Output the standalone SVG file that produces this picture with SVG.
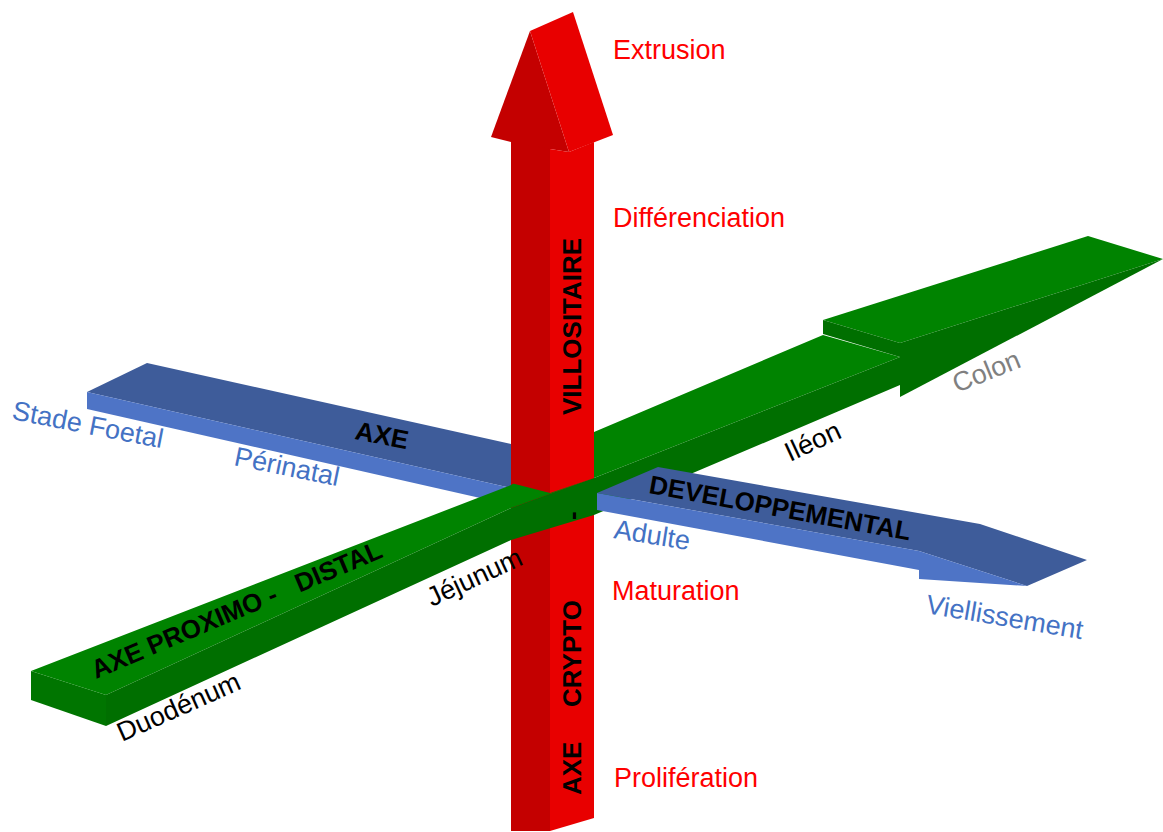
<svg xmlns="http://www.w3.org/2000/svg" width="1163" height="832" viewBox="0 0 1163 832">
  <style>
    text { font-family: "Liberation Sans", Arial, sans-serif; font-size: 27px; }
    .red-top { fill: #E80000; }
    .red-side { fill: #C40000; }
    .green-top { fill: #008300; }
    .green-side { fill: #006F00; }
    .green-end { fill: #007500; }
    .blue-top { fill: #3E5C9A; }
    .blue-side { fill: #4E74C6; }
    .lbl-red { fill: #FF0000; }
    .lbl-blue { fill: #4472C4; }
    .lbl-black { fill: #000000; }
    .lbl-grey { fill: #808080; }
    .axis-name { fill: #000000; font-size: 26px; font-weight: bold; }
  </style>
  <rect width="1163" height="832" fill="#FFFFFF"/>

  <!-- developmental axis, rear half (passes behind the vertical bar) -->
  <g id="axe-developpemental-arriere">
    <polygon class="blue-top" points="87,392 147,363 511,444 511,488"/>
    <polygon class="blue-side" points="87,392 511,488 511,505 87,409"/>
  </g>

  <!-- crypt part of the vertical bar, below the green bar -->
  <g id="axe-crypto">
    <polygon class="red-side" points="511,470 550,470 550,831 511,831"/>
    <polygon class="red-top" points="550,470 594,470 594,818 550,831"/>
  </g>

  <!-- proximo-distal axis -->
  <g id="axe-proximo-distal">
    <polygon class="green-end" points="31,671 106,695 106,726 31,700"/>
    <polygon class="green-top" points="31,671 511,485 594,432 823,335 900,357 594,478 511,508 106,695"/>
    <polygon class="green-side" points="106,695 511,508 594,478 900,357 900,385 594,515 511,540 106,726"/>
    <polygon class="green-top" points="823,320 1088,236 1163,259 900,343"/>
    <polygon class="green-side" points="823,320 900,343 900,357 823,334"/>
    <polygon class="green-side" points="900,343 1163,259 900,397"/>
  </g>

  <!-- developmental axis, front half with arrow head -->
  <g id="axe-developpemental-avant">
    <polygon class="blue-top" points="597,493 658,467 980,524 1087,560 1027,586 919,551"/>
    <polygon class="blue-side" points="597,493 919,551 919,570 597,510"/>
    <polygon class="blue-side" points="919,551 1027,586 919,579"/>
  </g>

  <!-- villous part of the vertical bar with arrow head -->
  <g id="axe-villositaire">
    <polygon class="red-side" points="511,137 550,137 550,493 511,483"/>
    <polygon class="red-side" points="530,31 491,137 511,142 550,149 569,152"/>
    <polygon class="red-top" points="530,31 573,12 613,135 569,152"/>
    <polygon class="red-top" points="550,149 569,152 594,142 594,478 550,493"/>
  </g>

  <!-- axis names printed on the bars -->
  <g id="noms-axes">
    <text class="axis-name" transform="translate(581,415) rotate(-90)">VILLOSITAIRE</text>
    <text class="axis-name" transform="translate(581,707) rotate(-90)">CRYPTO</text>
    <text class="axis-name" transform="translate(581,795) rotate(-90)">AXE</text>
    <text class="axis-name" transform="translate(581,520) rotate(-90)">-</text>
    <text class="axis-name" transform="translate(354,439) rotate(11)">AXE</text>
    <text class="axis-name" transform="translate(648,493) rotate(10.3)">DEVELOPPEMENTAL</text>
    <text class="axis-name" transform="translate(96,679) rotate(-23)" xml:space="preserve">AXE PROXIMO -   DISTAL</text>
  </g>

  <!-- stage labels -->
  <g id="etapes-villositaires">
    <text class="lbl-red" x="613" y="59">Extrusion</text>
    <text class="lbl-red" x="613" y="227">Différenciation</text>
    <text class="lbl-red" x="612" y="600">Maturation</text>
    <text class="lbl-red" x="614" y="787">Prolifération</text>
  </g>
  <g id="etapes-developpement">
    <text class="lbl-blue" transform="translate(11,419) rotate(11)">Stade Foetal</text>
    <text class="lbl-blue" transform="translate(233,465) rotate(11.5)">Périnatal</text>
    <text class="lbl-blue" transform="translate(613,538) rotate(9)">Adulte</text>
    <text class="lbl-blue" transform="translate(925,613) rotate(9.5)">Viellissement</text>
  </g>
  <g id="segments-intestin">
    <text class="lbl-black" transform="translate(122,742) rotate(-24)">Duodénum</text>
    <text class="lbl-black" transform="translate(432,607) rotate(-25)">Jéjunum</text>
    <text class="lbl-black" transform="translate(790,462) rotate(-25)">Iléon</text>
    <text class="lbl-grey" transform="translate(957,393) rotate(-22)">Colon</text>
  </g>
</svg>
